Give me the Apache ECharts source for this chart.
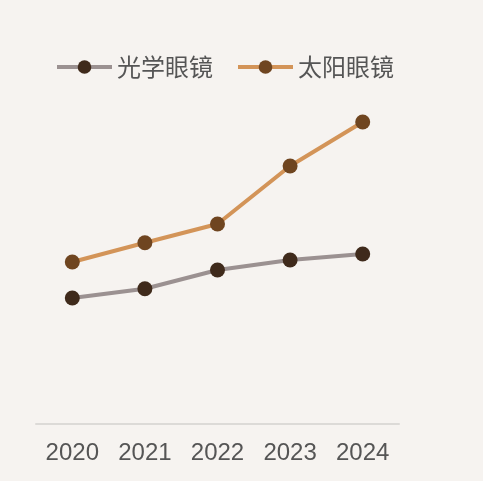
<!DOCTYPE html>
<html>
<head>
<meta charset="utf-8">
<script src="https://cdn.jsdelivr.net/npm/echarts@6/dist/echarts.min.js"></script>
<style>
  html, body { margin: 0; padding: 0; background: #f6f3f0; }
  #main { width: 483px; height: 481px; }
</style>
</head>
<body>
<div id="main"></div>
<script>
// data (arbitrary units, y axis hidden)
const years = ['2020', '2021', '2022', '2023', '2024']
const seriesNames = ['光学眼镜', '太阳眼镜']
const opticalValues = [31.5, 33.8, 38.5, 41, 42.5]
const sunValues = [40.5, 45.3, 50, 64.5, 75.5]

const lineColors = ['#9b9191', '#d39458']
const dotColors = ['#3f2a1b', '#6f4520']

const chart = echarts.init(document.getElementById('main'))
const makeSeries = (name, values, index) => ({
  name: name,
  type: 'line',
  data: values,
  symbol: 'circle',
  symbolSize: 15,
  lineStyle: { color: lineColors[index], width: 4 },
  itemStyle: { color: dotColors[index] }
})

const option = {
  backgroundColor: '#f6f3f0',
  legend: {
    data: seriesNames,
    left: 50,
    top: 50,
    itemWidth: 55,
    itemHeight: 17,
    itemGap: 23,
    lineStyle: { width: 4 },
    textStyle: {
      fontSize: 24,
      color: '#555555',
      fontFamily: 'Noto Sans CJK SC'
    }
  },
  grid: {
    left: 36,
    right: 84,
    top: 24,
    bottom: 57
  },
  xAxis: {
    type: 'category',
    data: years,
    axisLine: { lineStyle: { color: '#dcdad7', width: 2 } },
    axisTick: { show: false },
    axisLabel: {
      fontSize: 24,
      color: '#555555',
      margin: 17,
      fontFamily: 'Liberation Sans'
    }
  },
  yAxis: {
    type: 'value',
    min: 0,
    max: 100,
    show: false
  },
  series: [
    makeSeries(seriesNames[0], opticalValues, 0),
    makeSeries(seriesNames[1], sunValues, 1)
  ]
}
chart.setOption(option)
</script>
</body>
</html>
